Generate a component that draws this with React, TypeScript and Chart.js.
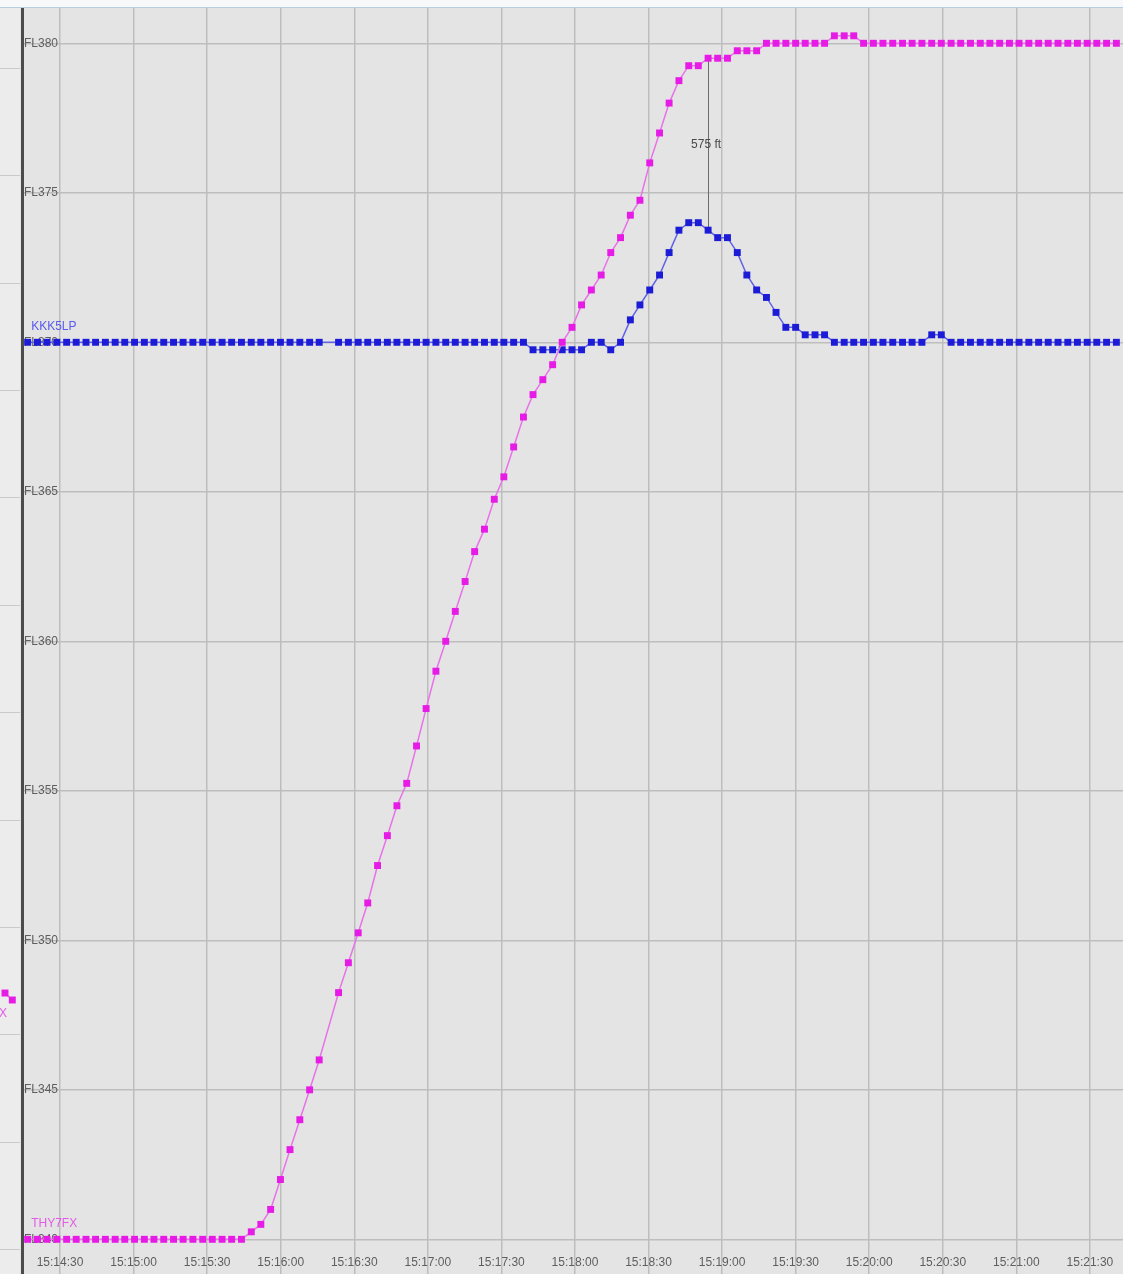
import React, { useEffect, useRef } from "react";
import { Chart, registerables } from "chart.js";

Chart.register(...registerables);

const FONT = '"Liberation Sans", Arial, Helvetica, sans-serif';

// Time axis: seconds after 15:14:30
const TIME_TICKS = [0, 30, 60, 90, 120, 150, 180, 210, 240, 270, 300, 330, 360, 390, 420];
const TIME_LABELS = [
  "15:14:30", "15:15:00", "15:15:30", "15:16:00", "15:16:30", "15:17:00", "15:17:30", "15:18:00",
  "15:18:30", "15:19:00", "15:19:30", "15:20:00", "15:20:30", "15:21:00", "15:21:30",
];
const TIME_MIN = -15.5;
const TIME_MAX = 433.5;

// Flight levels
const FL_TICKS = [340, 345, 350, 355, 360, 365, 370, 375, 380];
const FL_MIN = 338.84;
const FL_MAX = 381.18;

// Radar scan times (s after 15:14:30); one scan missing near 109.7 s
const SCAN_TIMES = [
  -13.2, -9.2, -5.3, -1.3, 2.7, 6.6, 10.6, 14.5, 18.5, 22.5, 26.4, 30.4, 34.4, 38.3, 42.3, 46.3,
  50.2, 54.2, 58.2, 62.1, 66.1, 70.0, 74.0, 78.0, 81.9, 85.9, 89.9, 93.8, 97.8, 101.8, 105.7,
  113.6, 117.6, 121.6, 125.5, 129.5, 133.5, 137.4, 141.4, 145.4, 149.3, 153.3, 157.3, 161.2, 165.2,
  169.1, 173.1, 177.1, 181.0, 185.0, 189.0, 192.9, 196.9, 200.9, 204.8, 208.8, 212.7, 216.7, 220.7,
  224.6, 228.6, 232.6, 236.5, 240.5, 244.5, 248.4, 252.4, 256.4, 260.3, 264.3, 268.2, 272.2, 276.2,
  280.1, 284.1, 288.1, 292.0, 296.0, 300.0, 303.9, 307.9, 311.8, 315.8, 319.8, 323.7, 327.7, 331.7,
  335.6, 339.6, 343.6, 347.5, 351.5, 355.5, 359.4, 363.4, 367.3, 371.3, 375.3, 379.2, 383.2, 387.2,
  391.1, 395.1, 399.1, 403.0, 407.0, 411.0, 414.9, 418.9, 422.8, 426.8, 430.8,
];

const THY7FX_FL = [
  340, 340, 340, 340, 340, 340, 340, 340, 340, 340, 340, 340, 340, 340, 340, 340,
  340, 340, 340, 340, 340, 340, 340, 340.25, 340.5, 341, 342, 343, 344, 345, 346,
  348.25, 349.25, 350.25, 351.25, 352.5, 353.5, 354.5, 355.25, 356.5, 357.75, 359, 360, 361, 362,
  363, 363.75, 364.75, 365.5, 366.5, 367.5, 368.25, 368.75, 369.25, 370, 370.5, 371.25, 371.75, 372.25,
  373, 373.5, 374.25, 374.75, 376, 377, 378, 378.75, 379.25, 379.25, 379.5, 379.5, 379.5, 379.75,
  379.75, 379.75, 380, 380, 380, 380, 380, 380, 380, 380.25, 380.25, 380.25, 380, 380,
  380, 380, 380, 380, 380, 380, 380, 380, 380, 380, 380, 380, 380, 380,
  380, 380, 380, 380, 380, 380, 380, 380, 380, 380, 380,
];

const KKK5LP_FL = [
  370, 370, 370, 370, 370, 370, 370, 370, 370, 370, 370, 370, 370, 370, 370, 370,
  370, 370, 370, 370, 370, 370, 370, 370, 370, 370, 370, 370, 370, 370, 370,
  370, 370, 370, 370, 370, 370, 370, 370, 370, 370, 370, 370, 370, 370,
  370, 370, 370, 370, 370, 370, 369.75, 369.75, 369.75, 369.75, 369.75, 369.75, 370, 370,
  369.75, 370, 370.75, 371.25, 371.75, 372.25, 373, 373.75, 374, 374, 373.75, 373.5, 373.5, 373,
  372.25, 371.75, 371.5, 371, 370.5, 370.5, 370.25, 370.25, 370.25, 370, 370, 370, 370, 370,
  370, 370, 370, 370, 370, 370.25, 370.25, 370, 370, 370, 370, 370, 370, 370,
  370, 370, 370, 370, 370, 370, 370, 370, 370, 370, 370,
];

const SERIES_NAMES = ["THY7FX", "KKK5LP"];
const SEPARATION_TIME = 264.3;

// Neighbouring (cut-off) panel on the left
const LEFT_PANEL_X = [5, 12.3];
const LEFT_PANEL_LEVEL = [2.39, 2.325];
const LEFT_PANEL_GRID = [0, 1, 2, 3, 4, 5, 6, 7, 8, 9, 10, 11];

const PINK_POINT = "#e61ce6";
const PINK_LINE = "#e872e8";
const PINK_TEXT = "#e45ae4";
const BLUE_POINT = "#1c1cd6";
const BLUE_LINE = "#6262e6";
const BLUE_TEXT = "#5a5af0";
const GRID = "#bdbdbd";
const TEXT = "#5e5e5e";

const seriesLabelPlugin = {
  id: "seriesLabels",
  afterDatasetsDraw(chart: any) {
    const { ctx } = chart;
    chart.data.datasets.forEach((ds: any, i: number) => {
      const meta = chart.getDatasetMeta(i);
      const first = meta.data[0];
      if (!first || !ds.tag) return;
      ctx.save();
      ctx.font = `12px ${FONT}`;
      ctx.fillStyle = ds.tagColor;
      ctx.textAlign = ds.tagAlign || "left";
      ctx.textBaseline = "middle";
      ctx.fillText(ds.tag, first.x + ds.tagDx, first.y + ds.tagDy);
      ctx.restore();
    });
  },
};

const timeLabelPlugin = {
  id: "timeLabels",
  afterDraw(chart: any) {
    const { ctx, scales } = chart;
    const x = scales.x;
    const y = scales.y;
    const yPix = y.getPixelForValue(FL_TICKS[0]) + 23;
    ctx.save();
    ctx.font = `12px ${FONT}`;
    ctx.fillStyle = TEXT;
    ctx.textAlign = "center";
    ctx.textBaseline = "middle";
    TIME_TICKS.forEach((t, k) => {
      ctx.fillText(TIME_LABELS[k], x.getPixelForValue(t), yPix);
    });
    ctx.restore();
  },
};

const separationPlugin = {
  id: "separation",
  beforeDatasetsDraw(chart: any) {
    const k = SCAN_TIMES.indexOf(SEPARATION_TIME);
    if (k < 0) return;
    const a = chart.getDatasetMeta(0).data[k];
    const b = chart.getDatasetMeta(1).data[k];
    if (!a || !b) return;
    const { ctx } = chart;
    const diffFt = Math.round((THY7FX_FL[k] - KKK5LP_FL[k]) * 100);
    ctx.save();
    ctx.strokeStyle = "#6a6a6a";
    ctx.lineWidth = 1;
    ctx.beginPath();
    ctx.moveTo(Math.round(a.x) + 0.5, a.y);
    ctx.lineTo(Math.round(a.x) + 0.5, b.y);
    ctx.stroke();
    ctx.font = `12px ${FONT}`;
    ctx.fillStyle = "#4a4a4a";
    ctx.textAlign = "center";
    ctx.textBaseline = "middle";
    ctx.fillText(`${diffFt} ft`, a.x - 2, (a.y + b.y) / 2);
    ctx.restore();
  },
};

function zeroPad(scale: any) {
  scale.paddingTop = 0;
  scale.paddingBottom = 0;
  scale.paddingLeft = 0;
  scale.paddingRight = 0;
}

export default function App() {
  const mainRef = useRef<HTMLCanvasElement | null>(null);
  const leftRef = useRef<HTMLCanvasElement | null>(null);

  useEffect(() => {
    if (!mainRef.current || !leftRef.current) return;

    const main = new Chart(mainRef.current, {
      type: "line",
      data: {
        datasets: [
          {
            label: SERIES_NAMES[0],
            data: SCAN_TIMES.map((t, i) => ({ x: t, y: THY7FX_FL[i] })),
            borderColor: PINK_LINE,
            borderWidth: 1.5,
            pointStyle: "rect",
            pointRadius: 4.9,
            pointBorderWidth: 0,
            pointBackgroundColor: PINK_POINT,
            pointBorderColor: PINK_POINT,
            tension: 0,
            tag: SERIES_NAMES[0],
            tagColor: PINK_TEXT,
            tagDx: 3.5,
            tagDy: -16,
          } as any,
          {
            label: SERIES_NAMES[1],
            data: SCAN_TIMES.map((t, i) => ({ x: t, y: KKK5LP_FL[i] })),
            borderColor: BLUE_LINE,
            borderWidth: 1.5,
            pointStyle: "rect",
            pointRadius: 4.9,
            pointBorderWidth: 0,
            pointBackgroundColor: BLUE_POINT,
            pointBorderColor: BLUE_POINT,
            tension: 0,
            tag: SERIES_NAMES[1],
            tagColor: BLUE_TEXT,
            tagDx: 3.5,
            tagDy: -16,
          } as any,
        ],
      },
      options: {
        animation: false,
        responsive: false,
        maintainAspectRatio: false,
        layout: { padding: 0, autoPadding: false },
        events: [],
        plugins: {
          legend: { display: false },
          title: { display: false },
          tooltip: { enabled: false },
        },
        scales: {
          x: {
            type: "linear",
            min: TIME_MIN,
            max: TIME_MAX,
            position: "bottom",
            afterBuildTicks: (s: any) => {
              s.ticks = TIME_TICKS.map((v) => ({ value: v }));
            },
            afterFit: (s: any) => {
              s.height = 0;
              zeroPad(s);
            },
            grid: { color: GRID, lineWidth: 1.5, drawTicks: false },
            border: { display: false },
            ticks: { display: false },
          },
          y: {
            type: "linear",
            min: FL_MIN,
            max: FL_MAX,
            position: "left",
            afterBuildTicks: (s: any) => {
              s.ticks = FL_TICKS.map((v) => ({ value: v }));
            },
            afterFit: (s: any) => {
              s.width = 2;
              zeroPad(s);
            },
            grid: { color: GRID, lineWidth: 1.5, drawTicks: false },
            border: { display: true, color: "#4c4c4c", width: 3 },
            ticks: {
              mirror: true,
              padding: 2,
              color: TEXT,
              font: { family: FONT, size: 12 },
              callback: (v: any) => `FL${v}`,
            },
          },
        },
      },
      plugins: [seriesLabelPlugin, timeLabelPlugin, separationPlugin],
    } as any);

    const left = new Chart(leftRef.current, {
      type: "line",
      data: {
        datasets: [
          {
            label: SERIES_NAMES[0],
            data: LEFT_PANEL_X.map((x, i) => ({ x, y: LEFT_PANEL_LEVEL[i] })),
            borderColor: PINK_LINE,
            borderWidth: 1.5,
            pointStyle: "rect",
            pointRadius: 4.9,
            pointBorderWidth: 0,
            pointBackgroundColor: PINK_POINT,
            pointBorderColor: PINK_POINT,
            clip: false,
            tag: SERIES_NAMES[0],
            tagColor: PINK_TEXT,
            tagAlign: "right",
            tagDx: 2,
            tagDy: 21,
          } as any,
        ],
      },
      options: {
        animation: false,
        responsive: false,
        maintainAspectRatio: false,
        layout: { padding: 0, autoPadding: false },
        events: [],
        plugins: {
          legend: { display: false },
          title: { display: false },
          tooltip: { enabled: false },
        },
        scales: {
          x: {
            type: "linear",
            min: 0,
            max: 20,
            display: false,
          },
          y: {
            type: "linear",
            min: -0.226,
            max: 11.561,
            afterBuildTicks: (s: any) => {
              s.ticks = LEFT_PANEL_GRID.map((v) => ({ value: v }));
            },
            afterFit: (s: any) => {
              s.width = 0;
              zeroPad(s);
            },
            grid: { color: "#cacaca", lineWidth: 1, drawTicks: false },
            border: { display: false },
            ticks: { display: false },
          },
        },
      },
      plugins: [seriesLabelPlugin],
    } as any);

    return () => {
      main.destroy();
      left.destroy();
    };
  }, []);

  return (
    <div
      style={{
        position: "fixed",
        left: 0,
        top: 0,
        width: 1123,
        height: 1274,
        overflow: "hidden",
        background: "#ffffff",
      }}
    >
      <div
        style={{
          position: "absolute",
          left: 0,
          top: 0,
          width: 1123,
          height: 7,
          background: "#f6f8fa",
          borderBottom: "1px solid #b7cfe2",
        }}
      />
      <canvas
        ref={leftRef}
        width={20}
        height={1266}
        style={{ position: "absolute", left: 0, top: 8, width: 20, height: 1266, background: "#ececec" }}
      />
      <canvas
        ref={mainRef}
        width={1103}
        height={1266}
        style={{ position: "absolute", left: 20, top: 8, width: 1103, height: 1266, background: "#e4e4e4" }}
      />
    </div>
  );
}
